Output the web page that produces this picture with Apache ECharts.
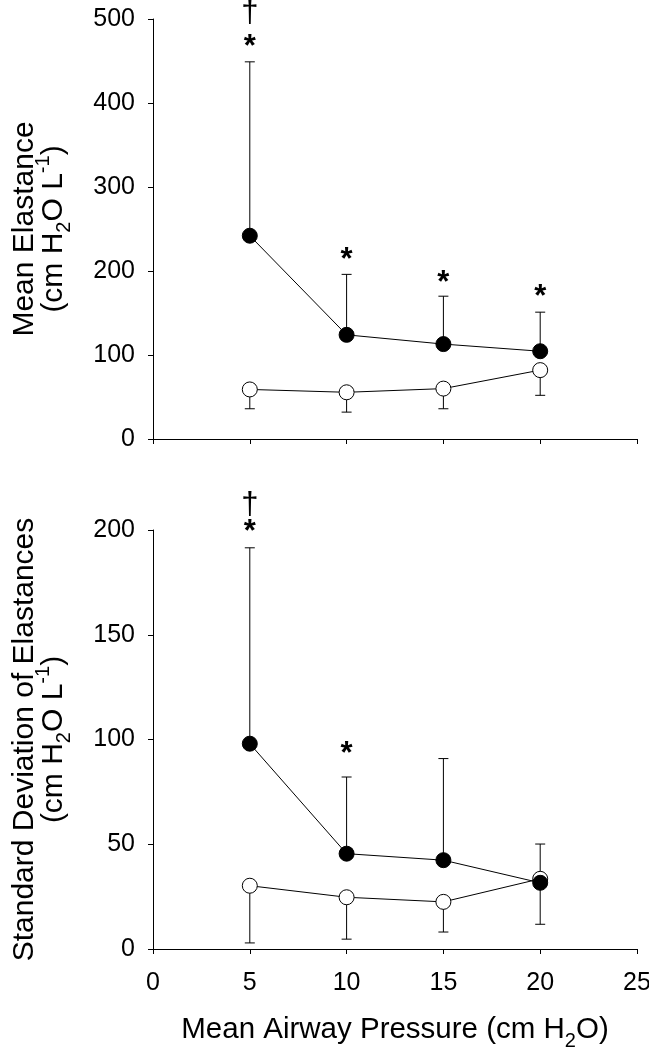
<!DOCTYPE html>
<html>
<head>
<meta charset="utf-8">
<script src="https://cdn.jsdelivr.net/npm/echarts@6/dist/echarts.min.js"></script>
<style>
html,body{margin:0;padding:0;background:#fff;}
#chart{width:649px;height:1049px;}
</style>
</head>
<body>
<div id="chart"></div>
<script>
// ---- data ----
const pressures = [5, 10, 15, 20];
const xTicks = [0, 5, 10, 15, 20, 25];

// Top panel: Mean Elastance
const meanFilled = [242, 124, 113, 104.5];
const meanFilledErrTop = [449, 196, 170, 151];
const meanOpen = [59, 55.6, 60, 82];
const meanOpenErrBottom = [36, 32, 36, 52];
const meanStars = [[5, 471], [10, 217], [15, 190], [20, 173]];
const meanDaggers = [[5, 509]];

// Bottom panel: Standard Deviation of Elastances
const sdFilled = [98, 45.5, 42.4, 31.6];
const sdFilledErrTop = [191.5, 82.1, 90.9, 50.1];
const sdOpen = [30.2, 24.7, 22.5, 33.5];
const sdOpenErrBottom = [2.9, 4.7, 8.1, 11.8];
const sdStars = [[5, 200.5], [10, 94.6]];
const sdDaggers = [[5, 212.6]];

const xTitle = 'Mean Airway Pressure (cm H{sub|2}O)';
const yTitleTop = 'Mean Elastance\n(cm H{sub|2}O L{sup|-1})';
const yTitleBottom = 'Standard Deviation of Elastances\n(cm H{sub|2}O L{sup|-1})';

// ---- chart ----
const FONT = "'Liberation Sans', Arial, sans-serif";
const chart = echarts.init(document.getElementById('chart'), null, {renderer: 'canvas'});

const richSub = {
  sub: {fontSize: 20, lineHeight: 20, padding: [11, 0, -11, 0], fontFamily: FONT, color: '#000'},
  sup: {fontSize: 20, lineHeight: 20, padding: [-10, 0, 10, 0], fontFamily: FONT, color: '#000'}
};

function pairs(xs, ys) { return xs.map((x, i) => [x, ys[i]]); }
function triples(xs, a, b) { return xs.map((x, i) => [x, a[i], b[i]]); }

function errRender(params, api) {
  const x = api.value(0);
  const p0 = api.coord([x, api.value(1)]);
  const p1 = api.coord([x, api.value(2)]);
  const w = 5;
  return {
    type: 'group',
    children: [
      {type: 'line', shape: {x1: p0[0], y1: p0[1], x2: p1[0], y2: p1[1]}, style: {stroke: '#000', lineWidth: 1}},
      {type: 'line', shape: {x1: p1[0] - w, y1: p1[1], x2: p1[0] + w, y2: p1[1]}, style: {stroke: '#000', lineWidth: 1}}
    ]
  };
}

function textRender(ch, size, weight, dy) {
  return function (params, api) {
    const p = api.coord([api.value(0), api.value(1)]);
    return {
      type: 'text', x: p[0], y: p[1] + dy,
      style: {text: ch, fontSize: size, fontWeight: weight, fontFamily: FONT, fill: '#000', align: 'center', verticalAlign: 'middle'}
    };
  };
}

function xAxisCfg(gridIndex, showLabels) {
  return {
    type: 'value', gridIndex: gridIndex, min: 0, max: 25, interval: 5,
    axisLine: {show: true, onZero: false, lineStyle: {color: '#000', width: 1}},
    axisTick: {show: true, inside: false, length: 5, lineStyle: {color: '#000'}},
    splitLine: {show: false},
    axisLabel: {show: showLabels, fontSize: 25, color: '#000', fontFamily: FONT, margin: 22},
    name: showLabels ? xTitle : '',
    nameLocation: 'middle', nameGap: 66,
    nameTextStyle: {fontSize: 29.5, lineHeight: 30, color: '#000', fontFamily: FONT, rich: richSub}
  };
}

function yAxisCfg(gridIndex, max, interval, title) {
  return {
    type: 'value', gridIndex: gridIndex, min: 0, max: max, interval: interval,
    axisLine: {show: true, lineStyle: {color: '#000', width: 1}},
    axisTick: {show: true, inside: false, length: 5, lineStyle: {color: '#000'}},
    splitLine: {show: false},
    axisLabel: {fontSize: 25, color: '#000', fontFamily: FONT, margin: 18},
    name: title, nameLocation: 'middle', nameRotate: 90, nameGap: 85,
    nameTextStyle: {fontSize: 30, lineHeight: 29, color: '#000', fontFamily: FONT, align: 'center', rich: richSub}
  };
}

function lineSeries(idx, data, filled) {
  return {
    type: 'line', xAxisIndex: idx, yAxisIndex: idx, data: data,
    symbol: 'circle', symbolSize: 15, showSymbol: true,
    lineStyle: {color: '#000', width: 1},
    itemStyle: filled ? {color: '#000', borderColor: '#000', borderWidth: 1} : {color: '#fff', borderColor: '#000', borderWidth: 1},
    emphasis: {disabled: true}, silent: true, z: 3
  };
}

function errSeries(idx, data) {
  return {type: 'custom', xAxisIndex: idx, yAxisIndex: idx, data: data, renderItem: errRender, encode: {x: 0, y: [1, 2]}, silent: true, z: 2};
}

function textSeries(idx, data, ch, size, weight, dy) {
  return {type: 'custom', xAxisIndex: idx, yAxisIndex: idx, data: data, renderItem: textRender(ch, size, weight, dy), clip: false, silent: true, z: 4};
}

const option = {
  animation: false,
  backgroundColor: '#fff',
  textStyle: {fontFamily: FONT},
  grid: [
    {left: 153, top: 19, width: 484, height: 420, containLabel: false, outerBoundsMode: 'none'},
    {left: 153, top: 530, width: 484, height: 419, containLabel: false, outerBoundsMode: 'none'}
  ],
  xAxis: [xAxisCfg(0, false), xAxisCfg(1, true)],
  yAxis: [yAxisCfg(0, 500, 100, yTitleTop), yAxisCfg(1, 200, 50, yTitleBottom)],
  series: [
    errSeries(0, triples(pressures, meanOpen, meanOpenErrBottom)),
    errSeries(0, triples(pressures, meanFilled, meanFilledErrTop)),
    lineSeries(0, pairs(pressures, meanOpen), false),
    lineSeries(0, pairs(pressures, meanFilled), true),
    textSeries(0, meanStars, '*', 31, 'bold', 4),
    textSeries(0, meanDaggers, '\u2020', 31, 'normal', 2),

    errSeries(1, triples(pressures, sdOpen, sdOpenErrBottom)),
    errSeries(1, triples(pressures, sdFilled, sdFilledErrTop)),
    lineSeries(1, pairs(pressures, sdOpen), false),
    lineSeries(1, pairs(pressures, sdFilled), true),
    textSeries(1, sdStars, '*', 31, 'bold', 4),
    textSeries(1, sdDaggers, '\u2020', 31, 'normal', 2)
  ]
};
chart.setOption(option);
</script>
</body>
</html>
